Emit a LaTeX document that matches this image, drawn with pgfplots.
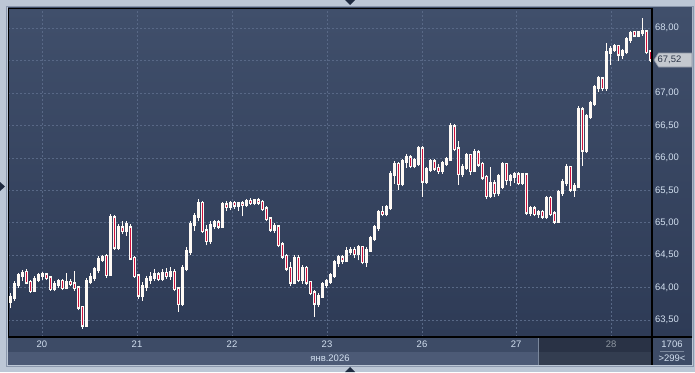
\documentclass[border=0pt]{standalone}
\usepackage{pgfplots}
\pgfplotsset{compat=1.18}
\usepackage{pgfplotstable}
\usepackage{fontspec}
\setmainfont{Liberation Sans}
\definecolor{outerbg}{HTML}{BCC7D6}
\definecolor{framec}{HTML}{8A97AC}
\definecolor{bgtop}{HTML}{404F6B}
\definecolor{bgbot}{HTML}{2E3B56}
\definecolor{gridc}{HTML}{586886}
\definecolor{stripa}{HTML}{3D4B66}
\definecolor{stripb}{HTML}{4C5A76}
\definecolor{labc}{HTML}{D3E0F0}
\definecolor{candw}{HTML}{FFFAF5}
\definecolor{candr}{HTML}{D0103C}
\definecolor{tagbg}{HTML}{C4C8CF}
\definecolor{tagbd}{HTML}{8C94A2}
\definecolor{tagtx}{HTML}{2B3447}
\definecolor{sepl}{HTML}{7A879C}
\definecolor{tri}{HTML}{1E2A40}

% x = pixel position of the candle, o h l c = price, dn = 1 for a falling candle
\pgfplotstableread{
x o h l c dn
10 63.78 63.92 63.68 63.84 0
14 63.84 64.10 63.80 64.05 0
18 64.05 64.22 64.00 64.18 0
22 64.18 64.27 64.10 64.22 0
26 64.24 64.28 64.05 64.08 1
30 64.08 64.12 63.92 63.95 1
34 63.95 64.18 63.93 64.13 0
38 64.13 64.22 64.08 64.18 0
42 64.18 64.24 64.12 64.20 0
46 64.20 64.23 64.12 64.15 1
50 64.15 64.18 63.95 63.98 1
54 63.98 64.10 63.94 64.05 0
58 64.05 64.14 64.00 64.10 0
62 64.10 64.13 63.96 64.00 1
66 64.00 64.22 63.98 64.08 0
70 64.08 64.14 64.02 64.06 1
74 64.06 64.25 63.95 64.00 1
78 64.00 64.02 63.65 63.70 1
82 63.70 63.72 63.36 63.42 1
86 63.42 64.15 63.40 64.10 0
90 64.10 64.22 64.05 64.16 0
94 64.16 64.32 64.10 64.28 0
98 64.28 64.48 64.22 64.44 0
102 64.44 64.50 64.40 64.46 0
106 64.48 64.52 64.15 64.20 1
110 64.20 65.14 64.18 65.08 0
114 65.08 65.12 64.58 64.62 1
118 64.62 64.98 64.58 64.92 0
122 64.92 65.02 64.82 64.88 1
126 64.88 65.02 64.80 64.98 0
130 64.92 64.98 64.42 64.45 1
134 64.45 64.48 64.15 64.18 1
138 64.18 64.20 63.82 63.88 1
142 63.88 64.08 63.80 64.02 0
146 64.02 64.18 63.95 64.12 0
150 64.12 64.24 64.06 64.16 0
154 64.16 64.28 64.10 64.20 0
158 64.20 64.24 64.10 64.14 1
162 64.14 64.28 64.10 64.22 0
166 64.22 64.30 64.14 64.18 1
170 64.18 64.32 64.12 64.24 0
174 64.24 64.28 63.94 63.98 1
178 63.98 64.00 63.62 63.75 1
182 63.75 64.35 63.72 64.30 0
186 64.30 64.62 64.25 64.56 0
190 64.56 65.02 64.50 64.98 0
194 64.98 65.15 64.88 65.10 0
198 65.10 65.36 65.02 65.30 0
202 65.30 65.34 64.84 64.88 1
206 64.88 64.96 64.65 64.72 1
210 64.72 65.02 64.68 64.96 0
214 64.96 65.04 64.90 65.00 0
218 65.00 65.04 64.90 64.95 1
222 64.95 65.32 64.92 65.28 0
226 65.28 65.33 65.18 65.25 1
230 65.25 65.34 65.20 65.30 0
234 65.30 65.34 65.22 65.27 1
238 65.27 65.32 65.18 65.29 0
242 65.29 65.34 65.10 65.28 1
246 65.28 65.36 65.24 65.33 0
250 65.33 65.38 65.28 65.31 1
254 65.31 65.37 65.27 65.34 0
258 65.34 65.38 65.28 65.32 1
262 65.32 65.35 65.18 65.22 1
266 65.22 65.26 65.02 65.06 1
270 65.06 65.08 64.86 64.90 1
274 64.90 65.00 64.84 64.94 0
278 64.94 64.96 64.62 64.66 1
282 64.66 64.70 64.44 64.48 1
286 64.48 64.52 64.25 64.30 1
290 64.30 64.40 64.02 64.08 1
294 64.08 64.50 64.05 64.45 0
298 64.45 64.50 64.08 64.12 1
302 64.12 64.35 64.06 64.30 0
306 64.30 64.34 64.04 64.08 1
310 64.08 64.10 63.88 63.92 1
314 63.92 63.96 63.55 63.76 1
318 63.76 63.92 63.70 63.86 0
322 63.86 64.08 63.84 64.05 0
326 64.05 64.14 64.00 64.10 0
330 64.10 64.22 64.06 64.18 0
334 64.18 64.42 64.15 64.38 0
338 64.38 64.50 64.32 64.46 0
342 64.46 64.50 64.36 64.42 1
346 64.42 64.62 64.40 64.56 0
350 64.56 64.62 64.50 64.58 0
354 64.58 64.62 64.46 64.52 1
358 64.52 64.66 64.42 64.62 0
362 64.62 64.64 64.36 64.40 1
366 64.40 64.62 64.32 64.58 0
370 64.58 64.80 64.55 64.76 0
374 64.76 64.96 64.72 64.92 0
378 64.92 65.20 64.88 65.16 0
382 65.16 65.26 65.10 65.14 1
386 65.14 65.28 65.10 65.24 0
390 65.24 65.80 65.20 65.75 0
394 65.75 65.96 65.60 65.90 0
398 65.90 65.94 65.50 65.60 1
402 65.60 65.98 65.56 65.94 0
406 65.94 66.06 65.85 66.00 0
410 66.00 66.04 65.84 65.88 1
414 65.88 66.00 65.84 65.96 0
418 65.92 66.18 65.88 66.14 0
422 66.14 66.18 65.40 65.64 1
426 65.64 65.86 65.60 65.82 0
430 65.82 65.98 65.78 65.94 0
434 65.94 65.98 65.80 65.84 1
438 65.84 65.90 65.76 65.80 1
442 65.80 65.95 65.76 65.92 0
446 65.92 66.02 65.88 65.98 0
450 65.98 66.54 65.96 66.48 0
454 66.48 66.52 66.10 66.14 1
458 66.14 66.26 65.58 65.76 1
462 65.76 65.90 65.70 65.86 0
466 65.86 66.08 65.82 66.04 0
470 66.04 66.06 65.74 65.80 1
474 65.80 66.14 65.78 66.08 0
478 66.08 66.12 65.86 65.90 1
482 65.90 65.94 65.66 65.70 1
486 65.70 65.74 65.36 65.42 1
490 65.42 65.86 65.38 65.60 0
494 65.60 65.66 65.40 65.46 1
498 65.46 65.76 65.42 65.72 0
502 65.56 65.94 65.52 65.90 0
506 65.90 65.92 65.58 65.66 1
510 65.66 65.76 65.56 65.72 0
514 65.72 65.78 65.62 65.74 0
518 65.74 65.78 65.58 65.62 1
522 65.62 65.76 65.58 65.74 0
526 65.74 65.76 65.12 65.16 1
530 65.16 65.26 65.10 65.22 0
534 65.22 65.26 65.10 65.14 1
538 65.14 65.20 65.08 65.16 0
542 65.16 65.20 65.06 65.10 1
546 65.10 65.42 65.06 65.38 0
550 65.38 65.42 65.10 65.14 1
554 65.14 65.18 64.98 65.02 1
558 65.02 65.50 65.00 65.46 0
562 65.46 65.68 65.42 65.62 0
566 65.62 65.90 65.56 65.86 0
570 65.86 65.88 65.48 65.52 1
574 65.52 65.62 65.40 65.56 0
578 65.56 66.80 65.54 66.74 0
582 66.74 66.78 65.88 66.12 1
586 66.12 66.68 66.08 66.64 0
590 66.64 66.88 66.60 66.84 0
594 66.84 67.12 66.80 67.08 0
598 67.08 67.26 67.02 67.22 0
602 67.22 67.24 67.04 67.08 1
606 67.08 67.78 67.04 67.62 0
610 67.62 67.72 67.44 67.68 0
614 67.68 67.76 67.64 67.72 0
618 67.72 67.74 67.50 67.60 1
622 67.60 67.68 67.52 67.64 0
626 67.64 67.86 67.60 67.82 0
630 67.82 67.96 67.78 67.92 0
634 67.94 67.96 67.86 67.89 1
638 67.89 67.96 67.86 67.93 0
642 67.93 68.16 67.88 67.95 0
646 67.95 67.97 67.60 67.64 1
650 67.64 67.66 67.48 67.52 1
}\candles

\begin{document}
\begin{tikzpicture}[x=1bp,y=1bp]
\fill[outerbg] (-8,-35) rectangle (687,337);
\draw[framec, line width=1bp] (-1.5,-29.5) rectangle (685.5,330.5);
\shade[top color=bgtop, bottom color=bgbot] (644,0) rectangle (684,329);
\fill[stripa] (0,-15) rectangle (684,0);
\fill[stripb] (0,-28) rectangle (644,-15);
\fill[stripa] (644,-28) rectangle (684,-15);
\begin{axis}[
  at={(0,0)}, anchor=south west,
  scale only axis, width=644bp, height=329bp,
  xmin=8, xmax=652, ymin=63.238, ymax=68.313,
  axis background/.style={top color=bgtop, bottom color=bgbot},
  axis line style={draw=black, line width=0.8bp},
  xtick={42,137,232,327,422,516,611},
  xticklabels={20,21,22,23,26,27,28},
  ytick={63.5,64,64.5,65,65.5,66,66.5,67,67.5,68},
  yticklabels={{63,50},{64,00},{64,50},{65,00},{65,50},{66,00},{66,50},{67,00},{},{68,00}},
  major tick length=0pt,
  grid=major,
  major grid style={draw=gridc, line width=0.7bp, dash pattern=on 2bp off 2bp},
  yticklabel pos=right,
  ticklabel style={font=\fontsize{9.5}{11}\selectfont, text=labc},
  xticklabel style={anchor=center, yshift=-7.5bp, inner sep=0pt},
  yticklabel style={anchor=west, xshift=3bp, inner sep=0pt},
]
% wicks: low to high
\addplot[candw, line width=0.8bp, mark=none, forget plot, -,
  quiver={u=0, v=\thisrow{h}-\thisrow{l}}]
  table[x=x, y=l] {\candles};
% bodies: open to close, white
\addplot[candw, line width=3bp, line cap=rect, mark=none, forget plot, -,
  quiver={u=0, v=\thisrow{c}-\thisrow{o}}]
  table[x=x, y=o] {\candles};
% red inside the falling candles
\addplot[candr, line width=1bp, line cap=butt, mark=none, forget plot, -,
  quiver={u=0, v=(\thisrow{o}-\thisrow{c})*\thisrow{dn}}]
  table[x=x, y=c] {\candles};
\end{axis}
\fill[black, opacity=0.32] (530,-28) rectangle (644,-0.5);
\draw[sepl, line width=0.8bp] (530,-28) -- (530,-1);
\draw[black, line width=1.2bp] (0,0) -- (684,0);
\draw[black, line width=1.2bp] (644,329) -- (644,-28);
\node[font=\fontsize{9.5}{11}\selectfont, text=labc, inner sep=0pt] at (322,-21.5) {янв.2026};
\filldraw[fill=tagbg, draw=tagbd, line width=0.6bp]
  (646,277) -- (650.5,284) -- (684,284) -- (684,270) -- (650.5,270) -- cycle;
\node[font=\fontsize{9.5}{11}\selectfont, text=tagtx, anchor=west, inner sep=0pt] at (649.5,277) {67,52};
\node[font=\fontsize{9.5}{11}\selectfont, text=labc, inner sep=0pt] at (664,-7) {1706};
\draw[sepl, line width=0.6bp] (652,-14) -- (676,-14);
\node[font=\fontsize{9.5}{11}\selectfont, text=labc, inner sep=0pt] at (664,-21) {>299<};
\fill[tri] (337,337) -- (347,337) -- (342,332) -- cycle;
\fill[tri] (-8,155) -- (-8,146) -- (-3,150.5) -- cycle;
\fill[tri] (337,-35) -- (347,-35) -- (342,-30) -- cycle;
\pgfresetboundingbox
\useasboundingbox (-8,-35) rectangle (687,337);
\end{tikzpicture}
\end{document}
